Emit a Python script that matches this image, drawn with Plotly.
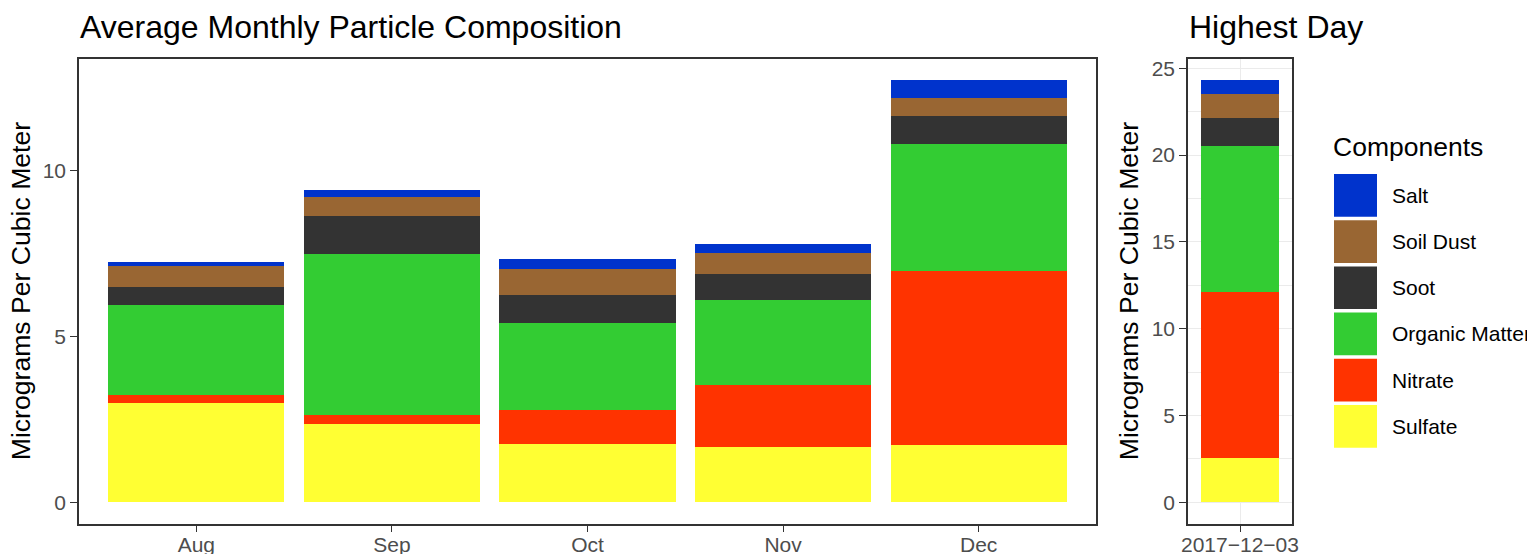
import plotly.graph_objects as go

# the page puts the figure 8px in from the top-left corner
OFF = 8
W, H = 1535 - OFF, 554 - OFF

# data (micrograms per cubic meter)
months = ["Aug", "Sep", "Oct", "Nov", "Dec"]
components = ["Sulfate", "Nitrate", "Organic Matter", "Soot", "Soil Dust", "Salt"]
colors = ["#FFFF33", "#FF3300", "#33CC33", "#333333", "#996633", "#0033CC"]

sulfate = [3.01, 2.35, 1.75, 1.66, 1.72]
nitrate = [0.24, 0.30, 1.05, 1.87, 5.25]
organic = [2.71, 4.85, 2.62, 2.58, 3.84]
soot = [0.55, 1.14, 0.85, 0.79, 0.85]
soil = [0.63, 0.58, 0.78, 0.63, 0.54]
salt = [0.12, 0.21, 0.30, 0.27, 0.54]
monthly = [sulfate, nitrate, organic, soot, soil, salt]

high_day = ["2017-12-03"]
high_values = [2.53, 9.58, 8.42, 1.61, 1.38, 0.80]

left_ticks = [0, 5, 10]
right_ticks = [0, 5, 10, 15, 20, 25]


def px(x):
    # screen pixel -> paper fraction
    return (x - OFF) / W


def py(y):
    return 1 - (y - OFF) / H


fig = go.Figure()

for name, col, vals in zip(components, colors, monthly):
    fig.add_trace(go.Bar(x=months, y=vals, name=name, marker_color=col,
                         marker_line_width=0, width=0.9, showlegend=False,
                         xaxis="x", yaxis="y"))

for name, col, v in zip(components, colors, high_values):
    fig.add_trace(go.Bar(x=high_day, y=[v], name=name, marker_color=col,
                         marker_line_width=0, width=0.9, showlegend=False,
                         xaxis="x2", yaxis="y2"))

tickfont = dict(family="Liberation Sans, Arial", size=21, color="#4D4D4D")
border = dict(showline=True, mirror=True, linecolor="#333333", linewidth=1.6,
              ticks="outside", ticklen=7, tickwidth=1.4, tickcolor="#333333",
              tickfont=tickfont, zeroline=False, automargin=False)

top, bottom = 59, 523.5
lmax = sum(v[-1] for v in monthly)
rmax = sum(high_values)

fig.update_layout(
    width=W, height=H,
    margin=dict(l=0, r=0, t=0, b=0),
    paper_bgcolor="white", plot_bgcolor="white",
    barmode="stack", bargap=0.1,
    font=dict(family="Liberation Sans, Arial", color="black"),
    xaxis=dict(domain=[px(79), px(1096)], range=[-0.6, 4.6], type="category",
               showgrid=False, ticklabelstandoff=-6, **border),
    yaxis=dict(domain=[py(bottom), py(top)], range=[-0.05 * lmax, 1.05 * lmax],
               tickvals=left_ticks, showgrid=False, **border),
    xaxis2=dict(domain=[px(1188), px(1292)], range=[-0.6, 0.6], type="category",
                tickvals=high_day, ticktext=[d.replace("-", "\u2212") for d in high_day],
                showgrid=True, gridcolor="#EBEBEB", gridwidth=1.1, anchor="y2",
                ticklabelstandoff=-6, **border),
    yaxis2=dict(domain=[py(bottom), py(top)], range=[-0.05 * rmax, 1.05 * rmax],
                tickvals=right_ticks, showgrid=True, gridcolor="#EBEBEB", gridwidth=1.1,
                minor=dict(dtick=2.5, tick0=0, showgrid=True, gridcolor="#EBEBEB",
                           gridwidth=0.6, ticks=""),
                anchor="x2", **border),
)

ann = []
ann.append(dict(text="Average Monthly Particle Composition", x=px(78), y=py(27),
                xanchor="left", yanchor="middle", font=dict(size=32)))
ann.append(dict(text="Highest Day", x=px(1187), y=py(27),
                xanchor="left", yanchor="middle", font=dict(size=32)))
ann.append(dict(text="Micrograms Per Cubic Meter", x=px(21), y=py((top + bottom) / 2),
                textangle=-90, xanchor="center", yanchor="middle", font=dict(size=26.6)))
ann.append(dict(text="Micrograms Per Cubic Meter", x=px(1129), y=py((top + bottom) / 2),
                textangle=-90, xanchor="center", yanchor="middle", font=dict(size=26.6)))
ann.append(dict(text="Components", x=px(1331), y=py(147),
                xanchor="left", yanchor="middle", font=dict(size=26.5)))

# legend keys, top entry is the top of the stack
shapes = []
key_top, pitch, key_h = 174, 46.2, 42.7
for i, (name, col) in enumerate(zip(components[::-1], colors[::-1])):
    y0 = key_top + i * pitch
    shapes.append(dict(type="rect", xref="paper", yref="paper",
                       x0=px(1334), x1=px(1377), y0=py(y0 + key_h), y1=py(y0),
                       fillcolor=col, line_width=0))
    ann.append(dict(text=name, x=px(1390), y=py(y0 + key_h / 2),
                    xanchor="left", yanchor="middle", font=dict(size=21)))

for a in ann:
    a.update(xref="paper", yref="paper", showarrow=False)

fig.update_layout(annotations=ann, shapes=shapes)

fig.write_html("out.html")
